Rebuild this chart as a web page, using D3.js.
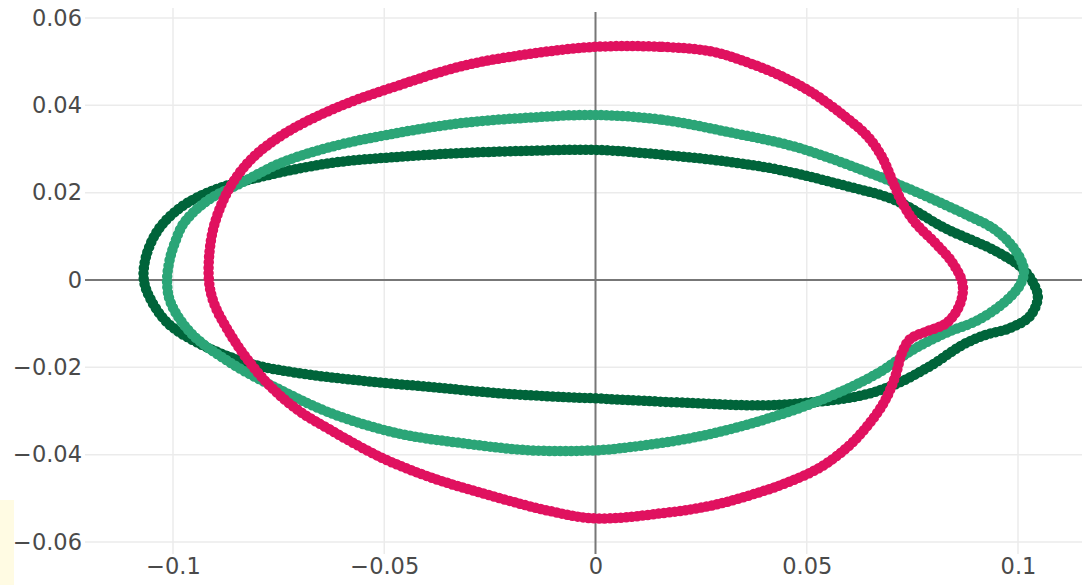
<!DOCTYPE html>
<html>
<head>
<meta charset="utf-8">
<script src="https://cdn.jsdelivr.net/npm/d3@7"></script>
<style>
  body { margin: 0; background: #fff; }
  svg text { font-family: "DejaVu Sans", sans-serif; }
</style>
</head>
<body>
<div id="chart"></div>
<script>

// tick values
const xTicks = [-0.1, -0.05, 0, 0.05, 0.1];
const yTicks = [-0.06, -0.04, -0.02, 0, 0.02, 0.04, 0.06];

// three closed outlines, [x, y]
const darkGreen = [
  [0, 0.0298], [0.0158, 0.0287], [0.0314, 0.0271], [0.0437, 0.0252], [0.0591, 0.0216],
  [0.0709, 0.0183], [0.0827, 0.0119], [0.0946, 0.0067], [0.1009, 0.0028], [0.1035, -0.0005],
  [0.1047, -0.0039], [0.1028, -0.0083], [0.0981, -0.0110], [0.0922, -0.0126], [0.0868, -0.0149],
  [0.0792, -0.0197], [0.0709, -0.0239], [0.0631, -0.0264], [0.0513, -0.0280], [0.0395, -0.0287],
  [0.0236, -0.0282], [0.0078, -0.0275], [0, -0.0271], [-0.0076, -0.0268], [-0.0232, -0.0259],
  [-0.0390, -0.0245], [-0.0548, -0.0231], [-0.0704, -0.0213], [-0.0823, -0.0190], [-0.0941, -0.0144],
  [-0.1012, -0.0099], [-0.1052, -0.0046], [-0.1069, 0], [-0.1064, 0.0053], [-0.1035, 0.0115],
  [-0.0981, 0.0167], [-0.0903, 0.0206], [-0.0785, 0.0238], [-0.0626, 0.0268], [-0.0468, 0.0282],
  [-0.0312, 0.0291], [-0.0154, 0.0296]
];

const lightGreen = [
  [0, 0.0378], [0.0158, 0.0367], [0.0314, 0.0339], [0.0473, 0.0305], [0.0631, 0.0252],
  [0.0749, 0.0206], [0.0868, 0.0154], [0.0946, 0.0115], [0.0993, 0.0069], [0.1014, 0.0023],
  [0.1005, -0.0011], [0.0969, -0.0050], [0.0905, -0.0092], [0.0827, -0.0122], [0.0749, -0.0161],
  [0.0669, -0.0213], [0.0551, -0.0268], [0.0395, -0.0321], [0.0236, -0.0360], [0.0078, -0.0383],
  [0, -0.0390], [-0.0154, -0.0390], [-0.0312, -0.0374], [-0.0468, -0.0351], [-0.0626, -0.0305],
  [-0.0745, -0.0252], [-0.0863, -0.0190], [-0.0957, -0.0122], [-0.1005, -0.0053], [-0.1014, -0.0007],
  [-0.1009, 0.0041], [-0.0995, 0.0087], [-0.0974, 0.0131], [-0.0917, 0.0183], [-0.0839, 0.0222],
  [-0.0745, 0.0268], [-0.0626, 0.0305], [-0.0468, 0.0337], [-0.0312, 0.0360], [-0.0154, 0.0372]
];

const crimson = [
  [0, 0.0534], [0.0158, 0.0534], [0.0277, 0.0523], [0.0355, 0.0500], [0.0433, 0.0470],
  [0.0513, 0.0429], [0.0591, 0.0374], [0.0645, 0.0328], [0.0678, 0.0282], [0.0702, 0.0229],
  [0.0726, 0.0177], [0.0757, 0.0131], [0.0804, 0.0085], [0.0844, 0.0041], [0.0868, -0.0005],
  [0.0868, -0.0037], [0.0856, -0.0069], [0.0830, -0.0099], [0.0780, -0.0119], [0.0745, -0.0135],
  [0.0726, -0.0165], [0.0709, -0.0222], [0.0683, -0.0280], [0.0641, -0.0337], [0.0596, -0.0383],
  [0.0532, -0.0429], [0.0461, -0.0461], [0.0395, -0.0484], [0.0277, -0.0516], [0.0158, -0.0534],
  [0, -0.0546], [-0.0113, -0.0528], [-0.0232, -0.0498], [-0.0390, -0.0452], [-0.0508, -0.0406],
  [-0.0626, -0.0344], [-0.0704, -0.0298], [-0.0768, -0.0245], [-0.0823, -0.0183], [-0.0870, -0.0115],
  [-0.0903, -0.0053], [-0.0915, 0], [-0.0910, 0.0092], [-0.0890, 0.0162], [-0.0856, 0.0227],
  [-0.0806, 0.0285], [-0.0728, 0.0340], [-0.0610, 0.0396], [-0.0468, 0.0445], [-0.0312, 0.0491],
  [-0.0154, 0.0518]
];

const series = [
  {name: "dark", color: "#00643a", points: darkGreen},
  {name: "light", color: "#2ba577", points: lightGreen},
  {name: "crimson", color: "#e0115f", points: crimson}
];

let W = 1082, H = 585;
let plot = {left: 85, right: 1082, top: 8, bottom: 554};

let svg = d3.select("#chart")
            .append("svg")
            .attr("width", W)
            .attr("height", H);

// pale strip left over in the corner of the screenshot
svg.append("rect")
   .attr("x", 0).attr("y", 500)
   .attr("width", 14).attr("height", 85)
   .attr("fill", "#fffbe3");

let x = d3.scaleLinear()
          .domain([-0.1, 0.1])
          .range([173, 1018]);

let y = d3.scaleLinear()
          .domain([-0.06, 0.06])
          .range([542, 18]);

let fmt = d3.format("~g");

// grid
svg.append("g")
   .selectAll("line")
   .data(xTicks.filter(d => d !== 0))
   .enter()
   .append("line")
   .attr("x1", d => x(d)).attr("x2", d => x(d))
   .attr("y1", plot.top).attr("y2", plot.bottom)
   .attr("stroke", "#ebebeb")
   .attr("stroke-width", 1.5);

svg.append("g")
   .selectAll("line")
   .data(yTicks.filter(d => d !== 0))
   .enter()
   .append("line")
   .attr("x1", plot.left).attr("x2", plot.right)
   .attr("y1", d => y(d)).attr("y2", d => y(d))
   .attr("stroke", "#ebebeb")
   .attr("stroke-width", 1.5);

// zero lines
svg.append("line")
   .attr("x1", plot.left).attr("x2", plot.right)
   .attr("y1", y(0)).attr("y2", y(0))
   .attr("stroke", "#777")
   .attr("stroke-width", 2);

svg.append("line")
   .attr("x1", x(0)).attr("x2", x(0))
   .attr("y1", plot.top + 4).attr("y2", plot.bottom)
   .attr("stroke", "#777")
   .attr("stroke-width", 2);

// axes (labels only)
let xAxis = svg.append("g")
   .attr("transform", "translate(0," + 556 + ")")
   .call(d3.axisBottom(x).tickValues(xTicks).tickFormat(fmt).tickSize(0).tickPadding(2));

let yAxis = svg.append("g")
   .attr("transform", "translate(" + 82 + ",0)")
   .call(d3.axisLeft(y).tickValues(yTicks).tickFormat(fmt).tickSize(0).tickPadding(0));

[xAxis, yAxis].forEach(function(a) {
  a.select(".domain").remove();
  a.selectAll("text")
   .style("font-family", "'DejaVu Sans', sans-serif")
   .style("font-size", "22.5px")
   .attr("fill", "#4a4a4a");
});

// outlines
let line = d3.line()
             .x(function(d) { return x(d[0]) })
             .y(function(d) { return y(d[1]) })
             .curve(d3.curveCatmullRomClosed.alpha(0.5));

series.forEach(function(s) {
  let g = svg.append("g").attr("class", "trace-" + s.name);

  g.append("path")
   .attr("d", line(s.points))
   .attr("fill", "none")
   .attr("stroke", s.color)
   .attr("stroke-width", 8.5);

  // beaded look of the dense markers
  g.append("path")
   .attr("d", line(s.points))
   .attr("fill", "none")
   .attr("stroke", s.color)
   .attr("stroke-width", 10.5)
   .attr("stroke-linecap", "round")
   .attr("stroke-dasharray", "0 5.4");
});

</script>
</body>
</html>
